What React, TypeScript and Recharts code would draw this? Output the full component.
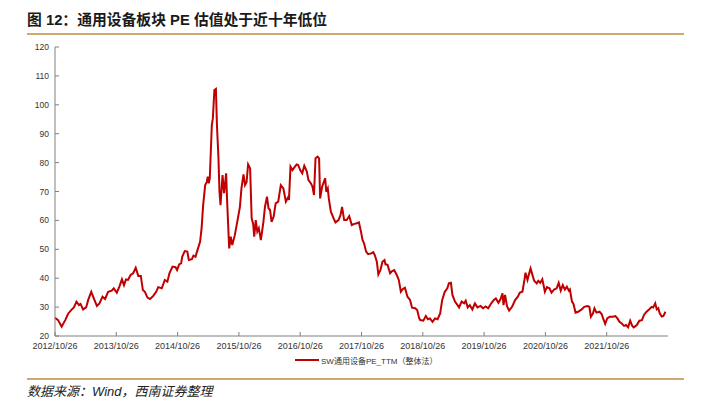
import { Line, LineChart, XAxis, YAxis } from "recharts";

const title = "图 12：通用设备板块 PE 估值处于近十年低位";
const source = "数据来源：Wind，西南证券整理";
const seriesName = "SW通用设备PE_TTM（整体法）";

const xLabels = [
  "2012/10/26", "2013/10/26", "2014/10/26", "2015/10/26", "2016/10/26",
  "2017/10/26", "2018/10/26", "2019/10/26", "2020/10/26", "2021/10/26",
];
const yTicks = [20, 30, 40, 50, 60, 70, 80, 90, 100, 110, 120];

// months since 2012/10/26
const months = [
  0.0, 0.6, 1.3, 2.0, 2.6, 3.3, 3.7, 4.2, 4.7, 5.0,
  5.5, 6.1, 6.5, 7.1, 7.6, 8.2, 8.7, 9.3, 9.8, 10.4,
  11.1, 11.5, 12.1, 12.6, 13.1, 13.5, 13.9, 14.3, 14.8, 15.3,
  15.8, 16.3, 16.8, 17.2, 17.6, 18.1, 18.6, 19.2, 19.8, 20.2,
  20.9, 21.5, 22.0, 22.4, 23.0, 23.6, 23.9, 24.3, 24.7, 24.9,
  25.4, 25.9, 26.2, 26.8, 27.1, 27.5, 27.9, 28.4, 28.7, 29.0,
  29.4, 29.7, 29.9, 30.1, 30.3, 30.7, 30.9, 31.2, 31.5, 31.7,
  32.0, 32.2, 32.4, 32.8, 33.1, 33.5, 33.7, 34.1, 34.4, 34.7,
  35.2, 35.8, 36.2, 36.5, 36.9, 37.2, 37.5, 37.8, 38.2, 38.5,
  38.8, 39.0, 39.3, 39.6, 39.9, 40.3, 40.8, 41.1, 41.5, 41.8,
  42.1, 42.4, 42.8, 43.2, 43.7, 44.2, 44.7, 45.2, 45.6, 45.8,
  46.1, 46.5, 46.8, 47.3, 47.6, 48.0, 48.4, 48.8, 49.3, 49.6,
  50.1, 50.4, 50.7, 51.0, 51.4, 51.7, 51.9, 52.3, 52.9, 53.1,
  53.4, 53.6, 54.0, 54.5, 54.9, 55.5, 55.9, 56.2, 56.6, 57.1,
  57.6, 58.1, 58.6, 59.1, 59.5, 59.9, 60.2, 60.5, 60.9, 61.3,
  61.9, 62.3, 62.6, 63.0, 63.3, 63.7, 64.1, 64.5, 64.7, 65.1,
  65.6, 66.0, 66.4, 66.9, 67.3, 67.7, 68.1, 68.5, 69.0, 69.5,
  69.9, 70.5, 70.9, 71.3, 71.5, 72.1, 72.6, 73.0, 73.4, 73.9,
  74.4, 74.9, 75.4, 75.8, 76.3, 76.8, 77.1, 77.5, 77.8, 78.3,
  78.8, 79.1, 79.6, 80.1, 80.4, 80.8, 81.2, 81.7, 82.2, 82.7,
  83.3, 83.8, 84.3, 84.8, 85.4, 85.9, 86.3, 86.8, 87.2, 87.6,
  87.8, 88.1, 88.5, 88.9, 89.5, 90.1, 90.6, 91.0, 91.5, 91.9,
  92.1, 92.5, 92.8, 93.1, 93.4, 93.8, 94.3, 94.6, 95.0, 95.4,
  95.9, 96.3, 96.8, 97.2, 97.7, 98.2, 98.6, 99.0, 99.4, 99.8,
  100.2, 100.6, 100.8, 101.2, 101.5, 101.9, 102.4, 103.1, 103.6, 104.2,
  104.6, 104.9, 105.3, 105.6, 106.0, 106.6, 107.0, 107.3, 107.7, 108.1,
  108.6, 109.2, 109.7, 110.1, 110.5, 110.9, 111.4, 111.8, 112.2, 112.6,
  113.0, 113.3, 113.9, 114.4, 114.9, 115.3, 115.8, 116.3, 116.8, 117.1,
  117.5, 117.8, 118.1, 118.4, 118.8, 119.1, 119.5,
];

const pe = [
  26.3, 25.5, 23.2, 25.5, 27.8, 29.2, 29.9, 31.9, 30.7, 31.1,
  29.2, 29.9, 32.5, 35.3, 33.0, 30.4, 31.3, 33.6, 32.8, 35.3,
  35.7, 36.5, 35.0, 37.1, 39.6, 37.6, 39.6, 39.4, 41.1, 41.7,
  43.6, 40.8, 40.8, 35.9, 35.3, 33.3, 32.8, 33.8, 35.3, 36.9,
  36.5, 39.4, 38.8, 41.7, 44.0, 43.8, 42.8, 44.8, 45.2, 47.4,
  49.4, 49.2, 46.3, 46.6, 47.8, 47.4, 49.8, 52.6, 57.3, 65.3,
  72.2, 73.2, 75.1, 72.8, 74.6, 93.0, 95.3, 105.1, 105.5, 93.0,
  81.5, 69.9, 65.3, 75.7, 69.4, 76.3, 66.5, 50.3, 54.4, 51.5,
  54.9, 60.7, 64.7, 71.1, 75.9, 72.2, 73.2, 79.4, 78.0, 60.7,
  58.7, 54.4, 60.1, 56.1, 57.3, 53.2, 59.5, 64.7, 68.2, 64.2,
  63.6, 59.5, 61.3, 65.9, 66.5, 72.2, 71.1, 66.5, 67.9, 67.1,
  78.6, 77.4, 78.2, 79.4, 79.2, 77.4, 76.3, 78.9, 76.9, 74.0,
  72.8, 71.7, 68.8, 81.5, 82.1, 81.5, 67.6, 71.7, 74.6, 69.9,
  71.1, 67.6, 63.0, 60.9, 59.3, 60.1, 61.9, 64.7, 60.1, 60.1,
  61.5, 58.4, 58.8, 59.0, 59.3, 56.1, 53.2, 52.1, 49.2, 48.3,
  48.6, 49.0, 48.0, 45.7, 41.3, 42.8, 45.7, 46.3, 44.8, 44.6,
  41.7, 42.5, 42.8, 41.1, 39.4, 35.3, 36.3, 36.7, 33.6, 32.5,
  29.8, 29.6, 29.0, 26.1, 25.5, 25.3, 26.9, 25.8, 26.1, 24.9,
  26.1, 25.8, 27.8, 32.5, 35.3, 36.5, 38.2, 38.4, 34.2, 31.9,
  30.7, 29.9, 31.9, 31.3, 32.2, 29.9, 30.7, 29.2, 31.3, 29.9,
  30.4, 29.6, 30.2, 29.6, 31.3, 32.5, 33.0, 31.5, 32.7, 34.8,
  30.7, 34.2, 30.2, 28.8, 30.2, 32.5, 33.6, 35.0, 35.3, 39.4,
  41.9, 39.4, 41.5, 43.4, 41.5, 39.1, 38.2, 39.1, 38.4, 39.6,
  35.3, 36.9, 36.5, 35.0, 36.1, 36.5, 38.4, 35.7, 37.6, 36.1,
  37.1, 35.7, 36.1, 31.9, 31.1, 28.1, 28.4, 29.2, 30.1, 30.4,
  30.1, 26.7, 27.8, 29.6, 28.1, 28.4, 27.6, 26.1, 24.2, 26.1,
  26.7, 26.7, 26.9, 26.1, 24.9, 24.4, 23.5, 23.8, 23.0, 25.3,
  23.5, 23.0, 23.8, 25.3, 25.5, 27.3, 28.4, 29.2, 30.1, 29.9,
  31.3, 29.2, 29.6, 27.8, 26.7, 26.9, 28.4,
];

const rows = months.map((m, i) => ({ m, pe: pe[i] }));
const xTicks = xLabels.map((_, i) => i * 12);

const gold = "#CFA770";
const red = "#C00000";
const axisGray = "#808080";
const font = '"Liberation Sans", Arial, "Noto Sans CJK SC", sans-serif';

export default function App() {
  return (
    <div style={{ position: "relative", width: 704, height: 398, background: "#fff", fontFamily: font }}>
      <style>{"body{margin:0}"}</style>
      <div
        style={{
          position: "absolute",
          left: 27,
          top: 10,
          fontSize: 14.8,
          lineHeight: "20px",
          fontWeight: "bold",
          color: "#1a1a1a",
          whiteSpace: "nowrap",
        }}
      >
        {title}
      </div>
      <div style={{ position: "absolute", left: 27, top: 33, width: 657, height: 2, background: gold }} />

      <div style={{ position: "absolute", left: 0, top: 0 }}>
        <LineChart width={704} height={398} data={rows} margin={{ top: 47, right: 36, bottom: 42, left: 0 }}>
          <XAxis
            dataKey="m"
            type="number"
            domain={[0, 120]}
            ticks={xTicks}
            tickFormatter={(v: number) => xLabels[Math.round(v / 12)] ?? ""}
            interval={0}
            height={20}
            tickSize={-4}
            tickMargin={11}
            stroke={axisGray}
            tick={{ fill: "#333", fontSize: 9, fontFamily: font }}
          />
          <YAxis
            type="number"
            domain={[20, 120]}
            ticks={yTicks}
            interval={0}
            width={55}
            tickSize={-4}
            tickMargin={10}
            stroke={axisGray}
            tick={{ fill: "#333", fontSize: 8.5, fontFamily: font }}
          />
          <Line
            type="linear"
            dataKey="pe"
            name={seriesName}
            stroke={red}
            strokeWidth={2}
            dot={false}
            isAnimationActive={false}
          />
        </LineChart>
      </div>

      <div
        style={{
          position: "absolute",
          left: 295,
          top: 353,
          height: 14,
          display: "flex",
          alignItems: "center",
          whiteSpace: "nowrap",
        }}
      >
        <span style={{ display: "inline-block", width: 24, height: 2.5, background: red, marginRight: 2 }} />
        <span style={{ fontSize: 8, color: "#333" }}>{seriesName}</span>
      </div>

      <div style={{ position: "absolute", left: 27, top: 378, width: 657, height: 1.5, background: gold }} />
      <div
        style={{
          position: "absolute",
          left: 27,
          top: 383,
          fontSize: 13,
          lineHeight: "18px",
          fontStyle: "italic",
          color: "#222",
          whiteSpace: "nowrap",
        }}
      >
        {source}
      </div>
    </div>
  );
}
